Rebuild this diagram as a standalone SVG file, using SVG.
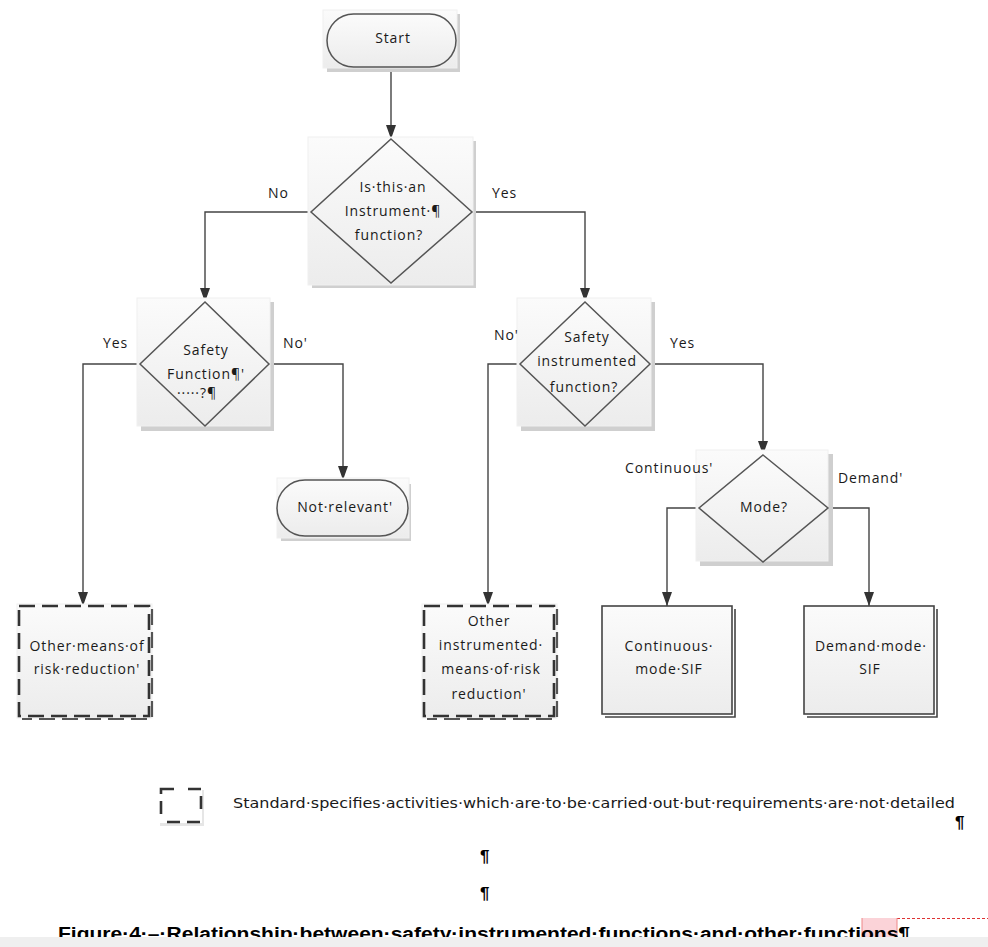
<svg xmlns="http://www.w3.org/2000/svg" width="988" height="947" viewBox="0 0 988 947">
<defs>
<linearGradient id="bg" x1="0" y1="0" x2="0" y2="1">
<stop offset="0" stop-color="#fbfbfb"/>
<stop offset="1" stop-color="#ececec"/>
</linearGradient>
<marker id="arr" viewBox="0 0 14 10" refX="14" refY="5" markerWidth="14" markerHeight="10" markerUnits="userSpaceOnUse" orient="auto">
<path d="M0,0 L14,5 L0,10 z" fill="#333"/>
</marker>
<style>
.t{font-family:"Open Sans","DejaVu Sans",sans-serif;font-size:14px;letter-spacing:0.9px;fill:#1a1a1a;text-anchor:middle}
.l{font-family:"Open Sans","DejaVu Sans",sans-serif;font-size:14px;letter-spacing:0.9px;fill:#1a1a1a}
.sh{fill:#cfcfcf}
.box{fill:url(#bg);stroke:#f0f0f0;stroke-width:1}
.sp{fill:url(#bg);stroke:#555;stroke-width:1.5}
.c{fill:none;stroke:#444;stroke-width:1.4}
.d{fill:none;stroke:#333;stroke-width:2.6;stroke-dasharray:16 7}
.ds{fill:none;stroke:#555;stroke-width:2.2;stroke-dasharray:16 7}
.r{fill:url(#bg);stroke:#444;stroke-width:1.6}
</style>
</defs>
<rect width="988" height="947" fill="#fff"/>

<g id="connectors">
<path class="c" d="M391,67 V139" marker-end="url(#arr)"/>
<path class="c" d="M311,212 H205 V302" marker-end="url(#arr)"/>
<path class="c" d="M472,212 H585 V302" marker-end="url(#arr)"/>
<path class="c" d="M140,364 H83 V606" marker-end="url(#arr)"/>
<path class="c" d="M269,364 H343 V480" marker-end="url(#arr)"/>
<path class="c" d="M520,364 H488 V606" marker-end="url(#arr)"/>
<path class="c" d="M650,364 H763 V455" marker-end="url(#arr)"/>
<path class="c" d="M699,508 H667 V606" marker-end="url(#arr)"/>
<path class="c" d="M828,508 H869 V606" marker-end="url(#arr)"/>
</g>

<g id="start">
<rect class="sh" x="327" y="14" width="133" height="58"/>
<rect class="box" x="323" y="10" width="134" height="58"/>
<rect class="sp" x="327" y="14" width="129" height="53" rx="26.5"/>
<text class="t" x="393" y="43">Start</text>
</g>

<g id="q-instrument">
<rect class="sh" x="312" y="141" width="164" height="147"/>
<rect class="box" x="308" y="137" width="165" height="148"/>
<path class="sp" d="M391,139 L472,212 L391,283 L311,212 z"/>
<text class="t" x="393" y="192">Is·this·an</text>
<text class="t" x="393" y="216">Instrument·¶</text>
<text class="t" x="389" y="240">function?</text>
</g>

<g id="q-safety">
<rect class="sh" x="141" y="302" width="133" height="129"/>
<rect class="box" x="137" y="298" width="133" height="128"/>
<path class="sp" d="M205,302 L269,364 L205,426 L140,364 z"/>
<text class="t" x="206" y="355">Safety</text>
<text class="t" x="206" y="379">Function¶'</text>
<text class="t" x="197" y="398">·····?¶</text>
</g>

<g id="q-sif">
<rect class="sh" x="521" y="302" width="134" height="129"/>
<rect class="box" x="517" y="298" width="134" height="128"/>
<path class="sp" d="M585,302 L650,364 L585,426 L520,364 z"/>
<text class="t" x="587" y="342">Safety</text>
<text class="t" x="587" y="366">instrumented</text>
<text class="t" x="584" y="392">function?</text>
</g>

<g id="q-mode">
<rect class="sh" x="700" y="454" width="133" height="112"/>
<rect class="box" x="696" y="450" width="132" height="111"/>
<path class="sp" d="M763,455 L828,508 L763,562 L699,508 z"/>
<text class="t" x="764" y="512">Mode?</text>
</g>

<g id="not-relevant">
<rect class="sh" x="281" y="484" width="130" height="57"/>
<rect class="box" x="277" y="478" width="132" height="60"/>
<rect class="sp" x="277" y="480" width="131" height="56" rx="28"/>
<text class="t" x="345" y="512">Not·relevant'</text>
</g>

<g id="other-means">
<rect class="box" x="17" y="604" width="135" height="114"/>
<path class="ds" d="M152,609 V719 H22"/>
<rect class="d" x="19" y="606" width="130" height="110"/>
<text class="t" x="87" y="651">Other·means·of</text>
<text class="t" x="87" y="674">risk·reduction'</text>
</g>

<g id="other-instrumented">
<rect class="box" x="422" y="604" width="135" height="114"/>
<path class="ds" d="M557,609 V719 H427"/>
<rect class="d" x="424" y="606" width="130" height="110"/>
<text class="t" x="489" y="626">Other</text>
<text class="t" x="491" y="650">instrumented·</text>
<text class="t" x="491" y="674">means·of·risk</text>
<text class="t" x="489" y="699">reduction'</text>
</g>

<g id="continuous-sif">
<path d="M735,609 V717 H605" fill="none" stroke="#444" stroke-width="1.6"/>
<rect class="r" x="602" y="606" width="130" height="108"/>
<text class="t" x="669" y="651">Continuous·</text>
<text class="t" x="669" y="674">mode·SIF</text>
</g>

<g id="demand-sif">
<path d="M937,609 V717 H807" fill="none" stroke="#444" stroke-width="1.6"/>
<rect class="r" x="804" y="606" width="130" height="108"/>
<text class="t" x="871" y="651">Demand·mode·</text>
<text class="t" x="870" y="674">SIF</text>
</g>

<g id="connector-labels">
<text class="l" x="268" y="198">No</text>
<text class="l" x="492" y="198">Yes</text>
<text class="l" x="103" y="348">Yes</text>
<text class="l" x="283" y="348">No'</text>
<text class="l" x="494" y="340">No'</text>
<text class="l" x="670" y="348">Yes</text>
<text class="l" x="625" y="473">Continuous'</text>
<text class="l" x="838" y="483">Demand'</text>
</g>

<g id="legend">
<rect x="160" y="790" width="44" height="36" fill="#e6e6e6"/>
<rect x="158" y="787" width="44" height="36" fill="#fff"/>
<rect x="161" y="789" width="40" height="33" fill="none" stroke="#333" stroke-width="2.6" stroke-dasharray="13 14 13 7"/>
<text x="233" y="808" font-family="'Liberation Sans Narrow','DejaVu Sans Condensed',sans-serif" font-size="14" fill="#1a1a1a" textLength="722" lengthAdjust="spacingAndGlyphs">Standard·specifies·activities·which·are·to·be·carried·out·but·requirements·are·not·detailed</text>
</g>

<g id="page-text" font-family="'Liberation Sans',Arial,sans-serif" fill="#000">
<text x="955" y="828" font-size="17" font-weight="bold">¶</text>
<text x="480" y="862" font-size="17" font-weight="bold">¶</text>
<text x="480" y="899" font-size="17" font-weight="bold">¶</text>
<rect x="862" y="918" width="35" height="22" fill="#fbd3d8"/>
<path d="M897,918.5 H988" stroke="#d33" stroke-width="1" stroke-dasharray="3 2" fill="none"/>
<path d="M862,918 V940 M897,918 V940" stroke="#e88" stroke-width="1" fill="none"/>
<text x="58" y="940" font-size="17.5" font-weight="bold" textLength="852" lengthAdjust="spacingAndGlyphs">Figure·4·–·Relationship·between·safety·instrumented·functions·and·other·functions¶</text>
<rect x="0" y="937" width="988" height="10" fill="#efefef"/>
</g>
</svg>
